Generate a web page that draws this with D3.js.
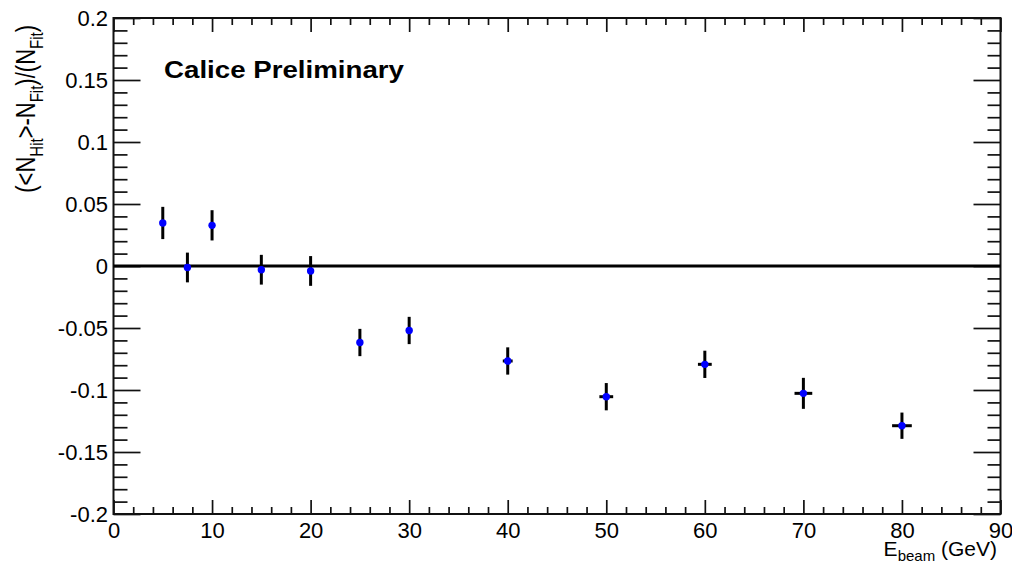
<!DOCTYPE html>
<html>
<head>
<meta charset="utf-8">
<script src="https://cdn.jsdelivr.net/npm/d3@7"></script>
<style>
  html, body { margin: 0; padding: 0; background: #fff; }
  svg { display: block; }
  text { font-family: "Liberation Sans", Arial, Helvetica, sans-serif; fill: #000; }
</style>
</head>
<body>
<svg id="chart" width="1012" height="565"></svg>
<script>
// ---- data ----
const energies = [5, 7.5, 10, 15, 20, 25, 30, 40, 50, 60, 70, 80];
const ratios   = [0.0347, -0.0012, 0.0328, -0.0030, -0.0040, -0.0617, -0.0520, -0.0766, -0.1054, -0.0793, -0.1027, -0.1288];
const yErrors  = [0.013, 0.012, 0.0122, 0.012, 0.012, 0.011, 0.011, 0.011, 0.011, 0.011, 0.0125, 0.0106];
const xErrors  = [0.2, 0.2, 0.2, 0.2, 0.2, 0.25, 0.25, 0.5, 0.7, 0.7, 0.9, 1.0];
const xMajorTicks = [0, 10, 20, 30, 40, 50, 60, 70, 80, 90];
const xTickLabels = ["0", "10", "20", "30", "40", "50", "60", "70", "80", "90"];
const yMajorTicks = [-0.2, -0.15, -0.1, -0.05, 0, 0.05, 0.1, 0.15, 0.2];
const yTickLabels = ["-0.2", "-0.15", "-0.1", "-0.05", "0", "0.05", "0.1", "0.15", "0.2"];
const xDomain = [0, 90];
const yDomain = [-0.2, 0.2];
const titleText = "Calice Preliminary";

// ---- layout ----
const L = 113.5, R = 1000.5, T = 18, B = 514;
const svg = d3.select("#chart");
const x = d3.scaleLinear().domain(xDomain).range([L, R]);
const y = d3.scaleLinear().domain(yDomain).range([B, T]);

const xMinor = d3.range(0, 90.001, 2).filter(v => v % 10 !== 0);
const yMinor = d3.range(-20, 20.001, 1).map(v => v / 100).filter(v => Math.abs(Math.round(v * 100)) % 5 !== 0);

const axisColor = "#111";
function styleAxis(g) {
  g.select(".domain").remove();
  g.selectAll(".tick line").attr("stroke", axisColor).attr("stroke-width", 1.7);
}

// bottom axis, major with labels
svg.append("g").attr("transform", `translate(0,${B})`)
  .call(d3.axisBottom(x).tickValues(xMajorTicks).tickSizeInner(-14).tickSizeOuter(0).tickPadding(8)
        .tickFormat((d, i) => xTickLabels[i]))
  .call(styleAxis)
  .call(g => g.selectAll("text").attr("font-size", 22).attr("fill", "#000")
     .style("font-family", "'Liberation Sans', Arial, sans-serif"));
// bottom minor
svg.append("g").attr("transform", `translate(0,${B})`)
  .call(d3.axisBottom(x).tickValues(xMinor).tickSizeInner(-7).tickSizeOuter(0).tickFormat(""))
  .call(styleAxis);
// top axis
svg.append("g").attr("transform", `translate(0,${T})`)
  .call(d3.axisTop(x).tickValues(xMajorTicks).tickSizeInner(-14).tickSizeOuter(0).tickFormat(""))
  .call(styleAxis);
svg.append("g").attr("transform", `translate(0,${T})`)
  .call(d3.axisTop(x).tickValues(xMinor).tickSizeInner(-7).tickSizeOuter(0).tickFormat(""))
  .call(styleAxis);

// left axis
svg.append("g").attr("transform", `translate(${L},0)`)
  .call(d3.axisLeft(y).tickValues(yMajorTicks).tickSizeInner(-27).tickSizeOuter(0).tickPadding(5.5)
        .tickFormat((d, i) => yTickLabels[i]))
  .call(styleAxis)
  .call(g => g.selectAll("text").attr("font-size", 22).attr("fill", "#000")
     .style("font-family", "'Liberation Sans', Arial, sans-serif"));
svg.append("g").attr("transform", `translate(${L},0)`)
  .call(d3.axisLeft(y).tickValues(yMinor).tickSizeInner(-14).tickSizeOuter(0).tickFormat(""))
  .call(styleAxis);
// right axis
svg.append("g").attr("transform", `translate(${R},0)`)
  .call(d3.axisRight(y).tickValues(yMajorTicks).tickSizeInner(-27).tickSizeOuter(0).tickFormat(""))
  .call(styleAxis);
svg.append("g").attr("transform", `translate(${R},0)`)
  .call(d3.axisRight(y).tickValues(yMinor).tickSizeInner(-13).tickSizeOuter(0).tickFormat(""))
  .call(styleAxis);

// frame
svg.append("rect").attr("x", L).attr("y", T).attr("width", R - L).attr("height", B - T)
  .attr("fill", "none").attr("stroke", axisColor).attr("stroke-width", 2);

// zero line
svg.append("line")
  .attr("x1", x(xDomain[0])).attr("x2", x(xDomain[1]))
  .attr("y1", y(0)).attr("y2", y(0))
  .attr("stroke", "#000").attr("stroke-width", 3);

// data
const pts = energies.map((e, i) => ({ e, r: ratios[i], ey: yErrors[i], ex: xErrors[i] }));
const g = svg.append("g");
g.selectAll("line.ey").data(pts).join("line").attr("class", "ey")
  .attr("x1", d => x(d.e)).attr("x2", d => x(d.e))
  .attr("y1", d => y(d.r - d.ey)).attr("y2", d => y(d.r + d.ey))
  .attr("stroke", "#000").attr("stroke-width", 3);
g.selectAll("line.ex").data(pts).join("line").attr("class", "ex")
  .attr("x1", d => x(d.e - d.ex)).attr("x2", d => x(d.e + d.ex))
  .attr("y1", d => y(d.r)).attr("y2", d => y(d.r))
  .attr("stroke", "#000").attr("stroke-width", 3);
g.selectAll("circle").data(pts).join("circle")
  .attr("cx", d => x(d.e)).attr("cy", d => y(d.r)).attr("r", 3.7)
  .attr("fill", "#0000ff");

// title
svg.append("text").attr("x", 164).attr("y", 78)
  .attr("font-size", 24).attr("font-weight", "bold")
  .attr("textLength", 240).attr("lengthAdjust", "spacingAndGlyphs")
  .text(titleText);

// x axis title
const xt = svg.append("text").attr("x", 997).attr("y", 556).attr("text-anchor", "end").attr("font-size", 21);
xt.append("tspan").text("E");
xt.append("tspan").attr("font-size", 15).attr("dy", 5).text("beam");
xt.append("tspan").attr("dy", -5).text(" (GeV)");

// y axis title
const yt = svg.append("text")
  .attr("transform", "translate(35,25) rotate(-90) scale(1,1.25)")
  .attr("text-anchor", "end").attr("font-size", 22);
yt.append("tspan").text("(<N");
yt.append("tspan").attr("font-size", 15).attr("dy", 6).text("Hit");
yt.append("tspan").attr("dy", -6).text(">-N");
yt.append("tspan").attr("font-size", 15).attr("dy", 6).text("Fit");
yt.append("tspan").attr("dy", -6).text(")/(N");
yt.append("tspan").attr("font-size", 15).attr("dy", 6).text("Fit");
yt.append("tspan").attr("dy", -6).text(")");
</script>
</body>
</html>
